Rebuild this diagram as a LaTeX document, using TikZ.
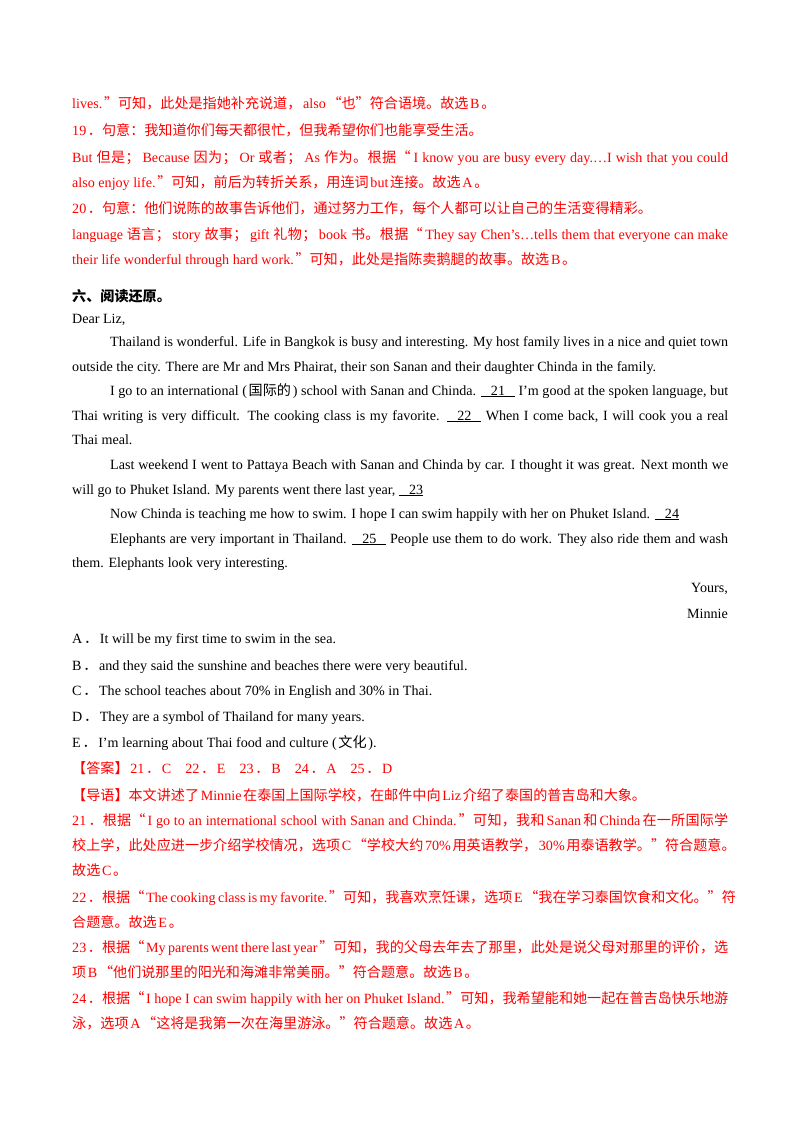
\documentclass[tikz,border=0pt]{standalone}
\usepackage{fontspec}
\setmainfont{Liberation Serif}
\newfontfamily\cjkfont{Noto Sans CJK SC}
\XeTeXinterchartokenstate=1
\newXeTeXintercharclass\CJKcls
\count255="3000
\loop\XeTeXcharclass\count255=\CJKcls\ifnum\count255<"9FFF\advance\count255 by 1\repeat
\count255="FF00
\loop\XeTeXcharclass\count255=\CJKcls\ifnum\count255<"FFEF\advance\count255 by 1\repeat
\XeTeXcharclass"201C=\CJKcls
\XeTeXcharclass"201D=\CJKcls
\XeTeXinterchartoks 4095 \CJKcls={\cjkfont}
\XeTeXinterchartoks \CJKcls 4095={\rmfamily}
\XeTeXinterchartoks 0 \CJKcls={\hskip0.12em plus 0.3em\cjkfont}
\XeTeXinterchartoks \CJKcls 0={\rmfamily\hskip0.12em plus 0.3em}
\XeTeXinterchartoks \CJKcls \CJKcls={\hskip0pt plus 1.5pt}
\newcommand\blank[1]{\underline{\makebox[34pt]{#1}}}
\newcommand\hblank[1]{\underline{\hspace{10pt}#1}}
\newcommand\full[1]{\makebox[656pt][s]{#1}}
\newcommand\fulli[1]{\makebox[618pt][s]{#1}}
\tikzset{txt/.style={inner sep=0pt,anchor=base west,font=\fontsize{14.1pt}{17pt}\selectfont},
rt/.style={txt,text=red}}
\begin{document}
\begin{tikzpicture}[x=1pt,y=1pt]
\useasboundingbox[fill=white] (0,0) rectangle (800,-1132);
\node[rt] (a1) at (72,-108) {lives.”可知，此处是指她补充说道，also“也”符合语境。故选B。};
\node[rt] (a2) at (72,-135) {19．句意：我知道你们每天都很忙，但我希望你们也能享受生活。};
\node[rt] (a3) at (72,-162) {\full{But 但是；Because 因为；Or 或者；As 作为。根据“I know you are busy every day.…I wish that you could}};
\node[rt] (a4) at (72,-187) {also enjoy life.”可知，前后为转折关系，用连词but连接。故选A。};
\node[rt] (a5) at (72,-213) {20．句意：他们说陈的故事告诉他们，通过努力工作，每个人都可以让自己的生活变得精彩。};
\node[rt] (a6) at (72,-239) {\full{language 语言；story 故事；gift 礼物；book 书。根据“They say Chen’s…tells them that everyone can make}};
\node[rt] (a7) at (72,-264) {their life wonderful through hard work.”可知，此处是指陈卖鹅腿的故事。故选B。};
\node[txt,font=\fontsize{14.1pt}{17pt}\selectfont\bfseries] (h) at (72,-301) {六、阅读还原。};
\node[txt] (b0) at (72,-323) {Dear Liz,};
\node[txt] (b1) at (110,-346) {\fulli{Thailand is wonderful. Life in Bangkok is busy and interesting. My host family lives in a nice and quiet town}};
\node[txt] (b2) at (72,-371) {outside the city. There are Mr and Mrs Phairat, their son Sanan and their daughter Chinda in the family.};
\node[txt] (b3) at (110,-395) {\fulli{I go to an international (国际的) school with Sanan and Chinda. \blank{21} I’m good at the spoken language, but}};
\node[txt] (b4) at (72,-420) {\full{Thai writing is very difficult. The cooking class is my favorite. \blank{22} When I come back, I will cook you a real}};
\node[txt] (b5) at (72,-444) {Thai meal.};
\node[txt] (b6) at (110,-469) {\fulli{Last weekend I went to Pattaya Beach with Sanan and Chinda by car. I thought it was great. Next month we}};
\node[txt] (b7) at (72,-494) {will go to Phuket Island. My parents went there last year, \hblank{23}};
\node[txt] (b8) at (110,-518) {Now Chinda is teaching me how to swim. I hope I can swim happily with her on Phuket Island. \hblank{24}};
\node[txt] (b9) at (110,-543) {\fulli{Elephants are very important in Thailand. \blank{25} People use them to do work. They also ride them and wash}};
\node[txt] (b10) at (72,-567) {them. Elephants look very interesting.};
\node[txt,anchor=base east] (y1) at (728,-592) {Yours,};
\node[txt,anchor=base east] (y2) at (728,-618) {Minnie};
\node[txt] (oA) at (72,-643) {A．It will be my first time to swim in the sea.};
\node[txt] (oB) at (72,-670) {B．and they said the sunshine and beaches there were very beautiful.};
\node[txt] (oC) at (72,-695) {C．The school teaches about 70\% in English and 30\% in Thai.};
\node[txt] (oD) at (72,-721) {D．They are a symbol of Thailand for many years.};
\node[txt] (oE) at (72,-747) {E．I’m learning about Thai food and culture (文化).};
\node[rt] (c1) at (72,-773) {【答案】21．C\quad 22．E\quad 23．B\quad 24．A\quad 25．D};
\node[rt] (c2) at (72,-800) {【导语】本文讲述了Minnie在泰国上国际学校，在邮件中向Liz介绍了泰国的普吉岛和大象。};
\node[rt] (c3) at (72,-825) {\full{21．根据“I go to an international school with Sanan and Chinda.”可知，我和Sanan和Chinda在一所国际学}};
\node[rt] (c4) at (72,-850) {校上学，此处应进一步介绍学校情况，选项C“学校大约70\%用英语教学，30\%用泰语教学。”符合题意。};
\node[rt] (c5) at (72,-875) {故选C。};
\node[rt] (c6) at (72,-902) {\full{22．根据“The cooking class is my favorite.”可知，我喜欢烹饪课，选项E“我在学习泰国饮食和文化。”符}};
\node[rt] (c7) at (72,-927) {合题意。故选E。};
\node[rt] (c8) at (72,-952) {\full{23．根据“My parents went there last year”可知，我的父母去年去了那里，此处是说父母对那里的评价，选}};
\node[rt] (c9) at (72,-977) {项B“他们说那里的阳光和海滩非常美丽。”符合题意。故选B。};
\node[rt] (c10) at (72,-1003) {\full{24．根据“I hope I can swim happily with her on Phuket Island.”可知，我希望能和她一起在普吉岛快乐地游}};
\node[rt] (c11) at (72,-1028) {泳，选项A“这将是我第一次在海里游泳。”符合题意。故选A。};
\end{tikzpicture}
\end{document}
